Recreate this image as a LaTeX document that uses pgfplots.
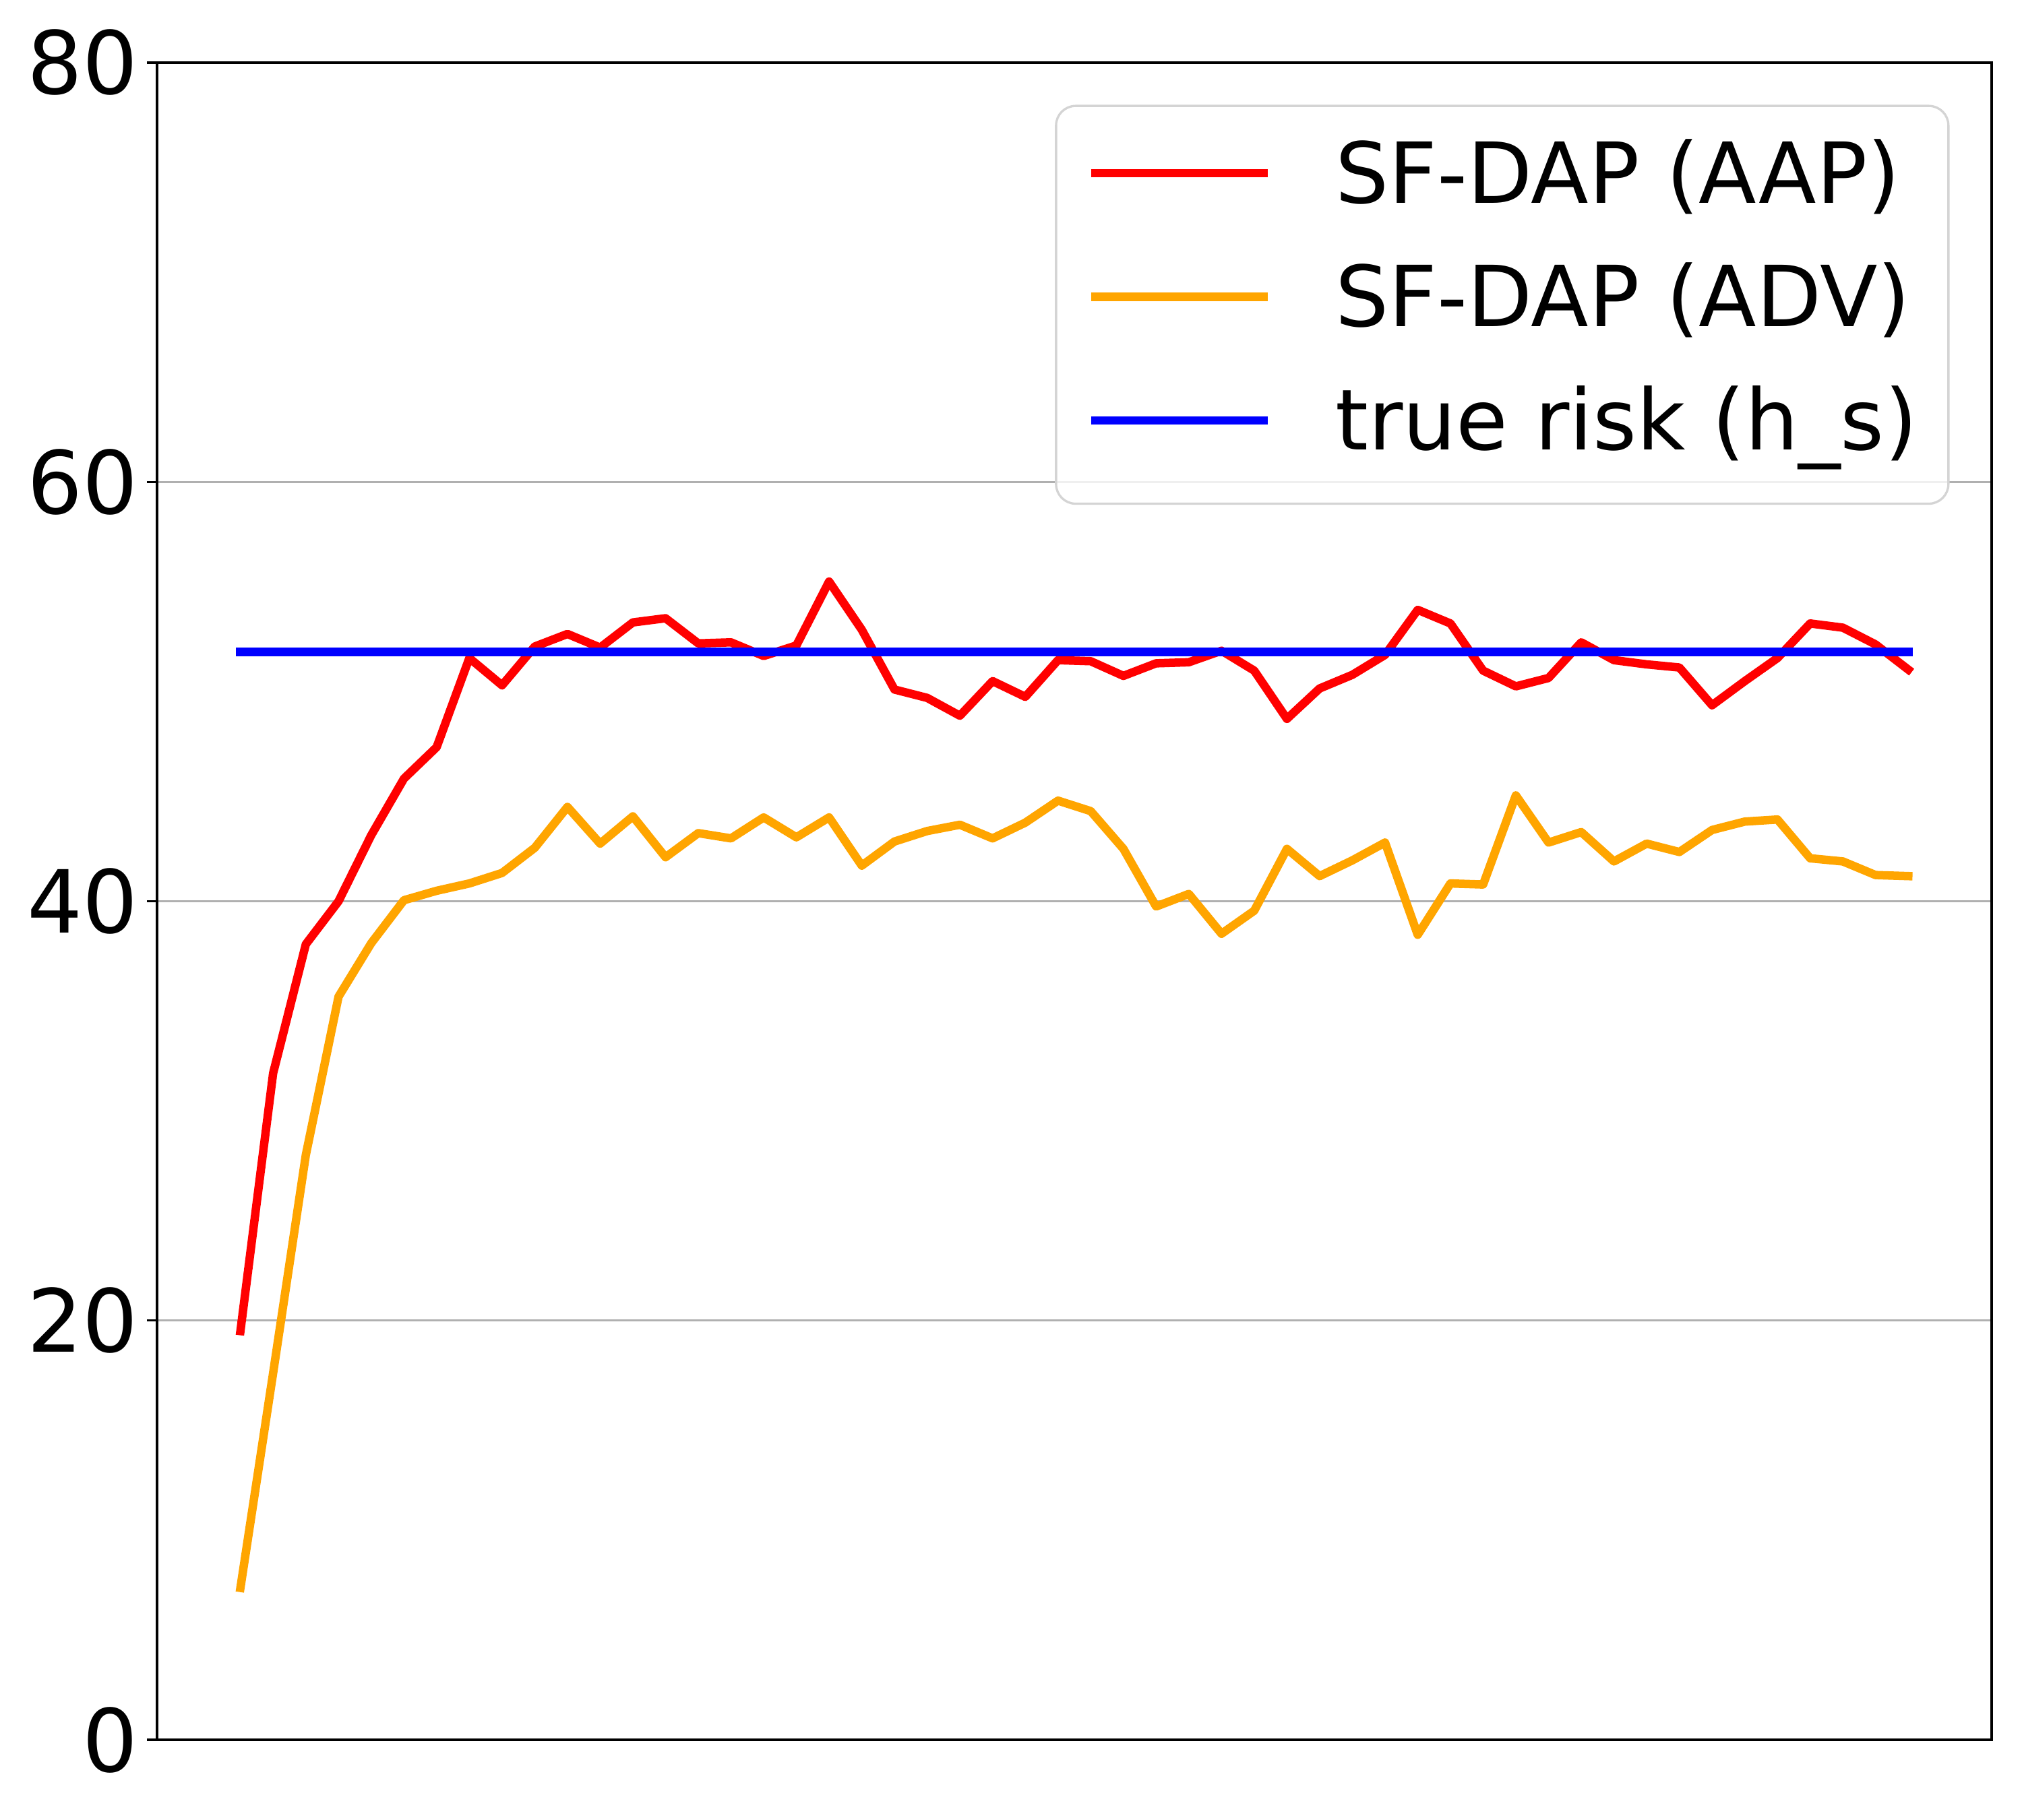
\documentclass[border=0pt]{standalone}
\usepackage{fontspec}
\setmainfont{DejaVu Sans}
\usepackage{pgfplots}
\pgfplotsset{compat=1.18}
\usepackage{pgfplotstable}
\usetikzlibrary{calc}
\definecolor{cred}{HTML}{FF0000}
\definecolor{corange}{HTML}{FFA500}
\definecolor{cblue}{HTML}{0000FF}
\definecolor{cgrid}{HTML}{B0B0B0}

\pgfplotstableread{
x aap adv
0 19.5 7.25
1 31.8 17.5
2 37.95 27.9
3 40.0 35.45
4 43.15 38.0
5 45.85 40.05
6 47.35 40.5
7 51.6 40.85
8 50.3 41.35
9 52.15 42.55
10 52.75 44.5
11 52.1 42.75
12 53.3 44.05
13 53.5 42.1
14 52.3 43.25
15 52.35 43.0
16 51.7 44.0
17 52.2 43.05
18 55.25 44.0
19 52.95 41.7
20 50.1 42.85
21 49.7 43.35
22 48.85 43.65
23 50.5 43.0
24 49.75 43.75
25 51.5 44.8
26 51.45 44.3
27 50.75 42.5
28 51.35 39.75
29 51.4 40.35
30 51.95 38.45
31 51.0 39.55
32 48.7 42.5
33 50.15 41.2
34 50.8 41.95
35 51.75 42.8
36 53.9 38.4
37 53.25 40.85
38 51.0 40.8
39 50.25 45.05
40 50.65 42.8
41 52.35 43.3
42 51.5 41.9
43 51.3 42.75
44 51.15 42.35
45 49.35 43.4
46 50.5 43.8
47 51.6 43.9
48 53.25 42.05
49 53.05 41.9
50 52.25 41.25
51 51.05 41.2
}\datatable

\pgfplotstableread{
x risk
0 51.9
51 51.9
}\risktable

\begin{document}
\begin{tikzpicture}
\begin{axis}[
  scale only axis,
  width=653.3pt, height=597.4pt,
  xmin=-2.55, xmax=53.55,
  ymin=0, ymax=80,
  xtick=\empty,
  ytick={0,20,40,60,80},
  ytick pos=left,
  tick align=outside,
  major tick length=3.5pt,
  tick style={black, line width=0.8pt},
  axis line style={black, line width=0.8pt},
  ymajorgrids=true,
  grid style={cgrid, line width=0.8pt},
  /pgf/number format/assume math mode=true,
  yticklabel style={font=\fontsize{31}{37}\selectfont, inner sep=0pt, xshift=-3pt},
  legend cell align=left,
  legend image code/.code={\draw[#1, line cap=butt] (0pt,2.85pt) -- (62.9pt,2.85pt);},
  legend style={
    at={(1,1)}, anchor=north east, xshift=-15pt, yshift=-15pt,
    draw=black!17, line width=0.8pt, rounded corners=7pt,
    fill=white, fill opacity=0.8, text opacity=1,
    font=\fontsize{30}{36}\selectfont,
    inner xsep=11pt, inner ysep=12.6pt,
    row sep=15.5pt, column sep=22.5pt,
    nodes={inner sep=0pt, text height=22pt, text depth=6.5pt},
  },
  every axis plot/.append style={line width=3pt, line join=round, line cap=rect},
]
\addplot[cred, no markers] table[x=x, y=aap] {\datatable};
\addlegendentry{SF-DAP (AAP)}
\addplot[corange, no markers] table[x=x, y=adv] {\datatable};
\addlegendentry{SF-DAP (ADV)}
\addplot[cblue, no markers] table[x=x, y=risk] {\risktable};
\addlegendentry{true risk (h\_s)}
\end{axis}
\pgfresetboundingbox
\path[use as bounding box] ($(current axis.south west)+(-55.92pt,-28.32pt)$) rectangle ($(current axis.north east)+(10.8pt,22.32pt)$);
\end{tikzpicture}
\end{document}
